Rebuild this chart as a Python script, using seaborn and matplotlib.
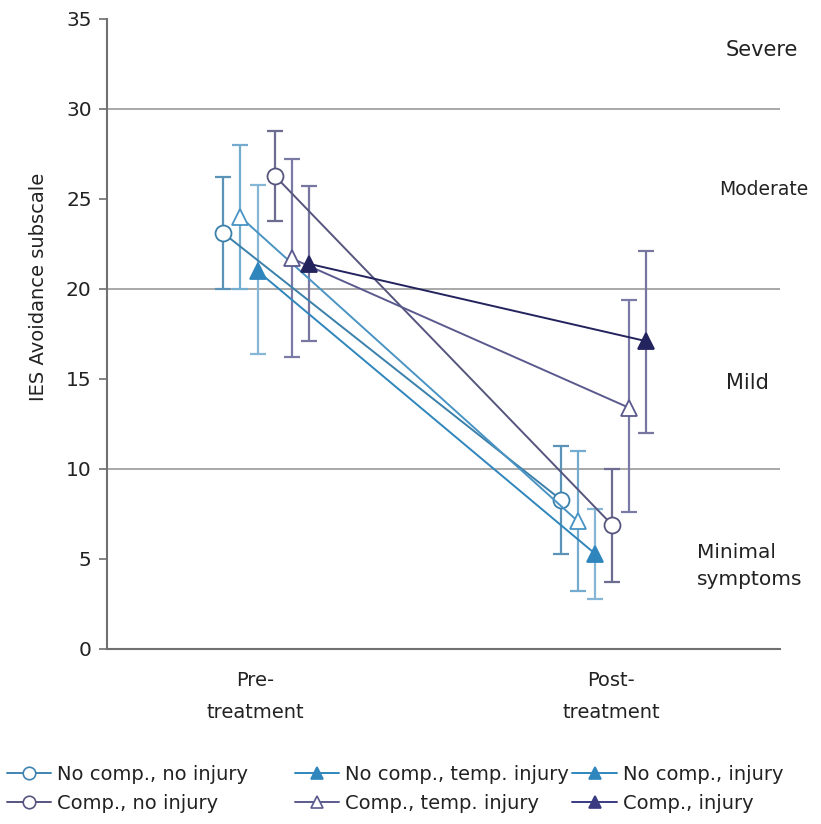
import matplotlib
matplotlib.use("Agg")
import matplotlib.pyplot as plt
from matplotlib.lines import Line2D
import numpy as np
import pandas as pd
import seaborn as sns

sns.set_theme(style="white")
plt.rcParams["font.family"] = ["DejaVu Sans"]

# Assessment occasions
timepoints = ["Pre-\ntreatment", "Post-\ntreatment"]

# Groups (compensation status x injury status)
groups = [
    "No comp., no injury",
    "No comp., temp. injury",
    "No comp., injury",
    "Comp., no injury",
    "Comp., temp. injury",
    "Comp., injury",
]

# Mean IES avoidance scores (pre, post)
means_pre = [23.1, 24.0, 21.0, 26.3, 21.7, 21.4]
means_post = [8.3, 7.1, 5.3, 6.9, 13.4, 17.1]
# Error bar limits (lower, upper)
lower_pre = [20.0, 20.0, 16.4, 23.8, 16.2, 17.1]
upper_pre = [26.2, 28.0, 25.8, 28.8, 27.2, 25.7]
lower_post = [5.3, 3.2, 2.8, 3.7, 7.6, 12.0]
upper_post = [11.3, 11.0, 7.8, 10.0, 19.4, 22.1]

# Symptom severity bands
band_labels = ["Severe", "Moderate", "Mild", "Minimal\nsymptoms"]
band_y = [33.3, 25.5, 14.8, 4.6]

line_colors = ["#3a80ab", "#4a94c4", "#2f86bd", "#55557e", "#5a5a8e", "#23235e"]
bar_colors = ["#5b93b8", "#74acd0", "#86b6d6", "#6c6c90", "#7a7aa6", "#7676a0"]
marker_shapes = ["o", "^", "^", "o", "^", "^"]
marker_fill = ["white", "white", "#2f86bd", "white", "white", "#23235e"]

group_centers = [0.031, 0.979]
step = 0.048

fig = plt.figure(figsize=(8.21, 8.24), dpi=100)
ax = fig.add_axes([0.1303, 0.2124, 0.8197, 0.7646])

rows = []
for i, g in enumerate(groups):
    off = (i - 2.5) * step
    rows.append({"group": g, "x": group_centers[0] + off, "y": means_pre[i],
                 "lo": lower_pre[i], "hi": upper_pre[i]})
    rows.append({"group": g, "x": group_centers[1] + off, "y": means_post[i],
                 "lo": lower_post[i], "hi": upper_post[i]})
df = pd.DataFrame(rows)

for i, g in enumerate(groups):
    sub = df[df["group"] == g]
    yerr = np.vstack([sub["y"] - sub["lo"], sub["hi"] - sub["y"]])
    ax.errorbar(sub["x"], sub["y"], yerr=yerr, fmt="none", ecolor=bar_colors[i],
                elinewidth=1.6, capsize=6, capthick=1.6, zorder=2)

for i, g in enumerate(groups):
    sub = df[df["group"] == g]
    sns.lineplot(data=sub, x="x", y="y", ax=ax, color=line_colors[i],
                 linewidth=1.4, marker=marker_shapes[i], markersize=11.5,
                 markerfacecolor=marker_fill[i], markeredgecolor=line_colors[i],
                 markeredgewidth=1.3, sort=False, zorder=3, legend=False)

for yv in [10, 20, 30]:
    ax.axhline(yv, color="#9a9a9a", linewidth=1.2, zorder=1)

ax.set_xlim(-0.416, 1.475)
ax.set_ylim(0, 35)
ax.set_yticks(np.arange(0, 36, 5))
ax.set_xticks([0, 1])
ax.set_xticklabels(timepoints, fontsize=14, color="#222222", linespacing=1.85)
ax.tick_params(axis="x", length=0, pad=16)
ax.tick_params(axis="y", length=6, width=1.2, color="#707070", labelsize=14.5,
               labelcolor="#222222", direction="out", left=True, pad=5)
for s in ["top", "right"]:
    ax.spines[s].set_visible(False)
for s in ["left", "bottom"]:
    ax.spines[s].set_color("#707070")
    ax.spines[s].set_linewidth(1.5)
ax.set_xlabel("")
ax.set_ylabel("IES Avoidance subscale", fontsize=14, color="#222222")
ax.yaxis.set_label_coords(-0.088, 0.575)

# Severity band labels on the right
band_x = [0.973, 0.976, 0.952, 0.877]
band_ha = ["center", "center", "center", "left"]
band_fs = [15, 13.5, 15, 14.5]
for lab, yv, xv, ha, fs in zip(band_labels, band_y, band_x, band_ha, band_fs):
    ax.text(xv, yv, lab, transform=ax.get_yaxis_transform(), ha=ha, va="center",
            fontsize=fs, color="#222222", clip_on=False, linespacing=1.5)

# Legend, laid out as three columns of two entries
legend_markers = ["o", "o", "^", "^", "^", "^"]
legend_fill = ["white", "white", "#2f86bd", "white", "#2f86bd", "#3a3a80"]
legend_colors = ["#3f84b0", "#55557e", "#2f86bd", "#5a5a8e", "#2f86bd", "#3a3a80"]
legend_order = [0, 3, 1, 4, 2, 5]
column_x = [0.008, 0.359, 0.697]
for c in range(3):
    handles = []
    labels = []
    for k in (2 * c, 2 * c + 1):
        handles.append(Line2D([0], [0], color=legend_colors[k], lw=1.4,
                              marker=legend_markers[k], markersize=9,
                              markerfacecolor=legend_fill[k],
                              markeredgecolor=legend_colors[k], markeredgewidth=1.2))
        labels.append(groups[legend_order[k]])
    fig.legend(handles, labels, loc="upper left",
               bbox_to_anchor=(column_x[c], 1 - 765 / 824),
               ncol=1, frameon=False, fontsize=14, handlelength=2.3,
               handletextpad=0.3, labelspacing=0.5, borderpad=0,
               borderaxespad=0, labelcolor="#222222")

fig.savefig("out.png", dpi=100, facecolor="white")
